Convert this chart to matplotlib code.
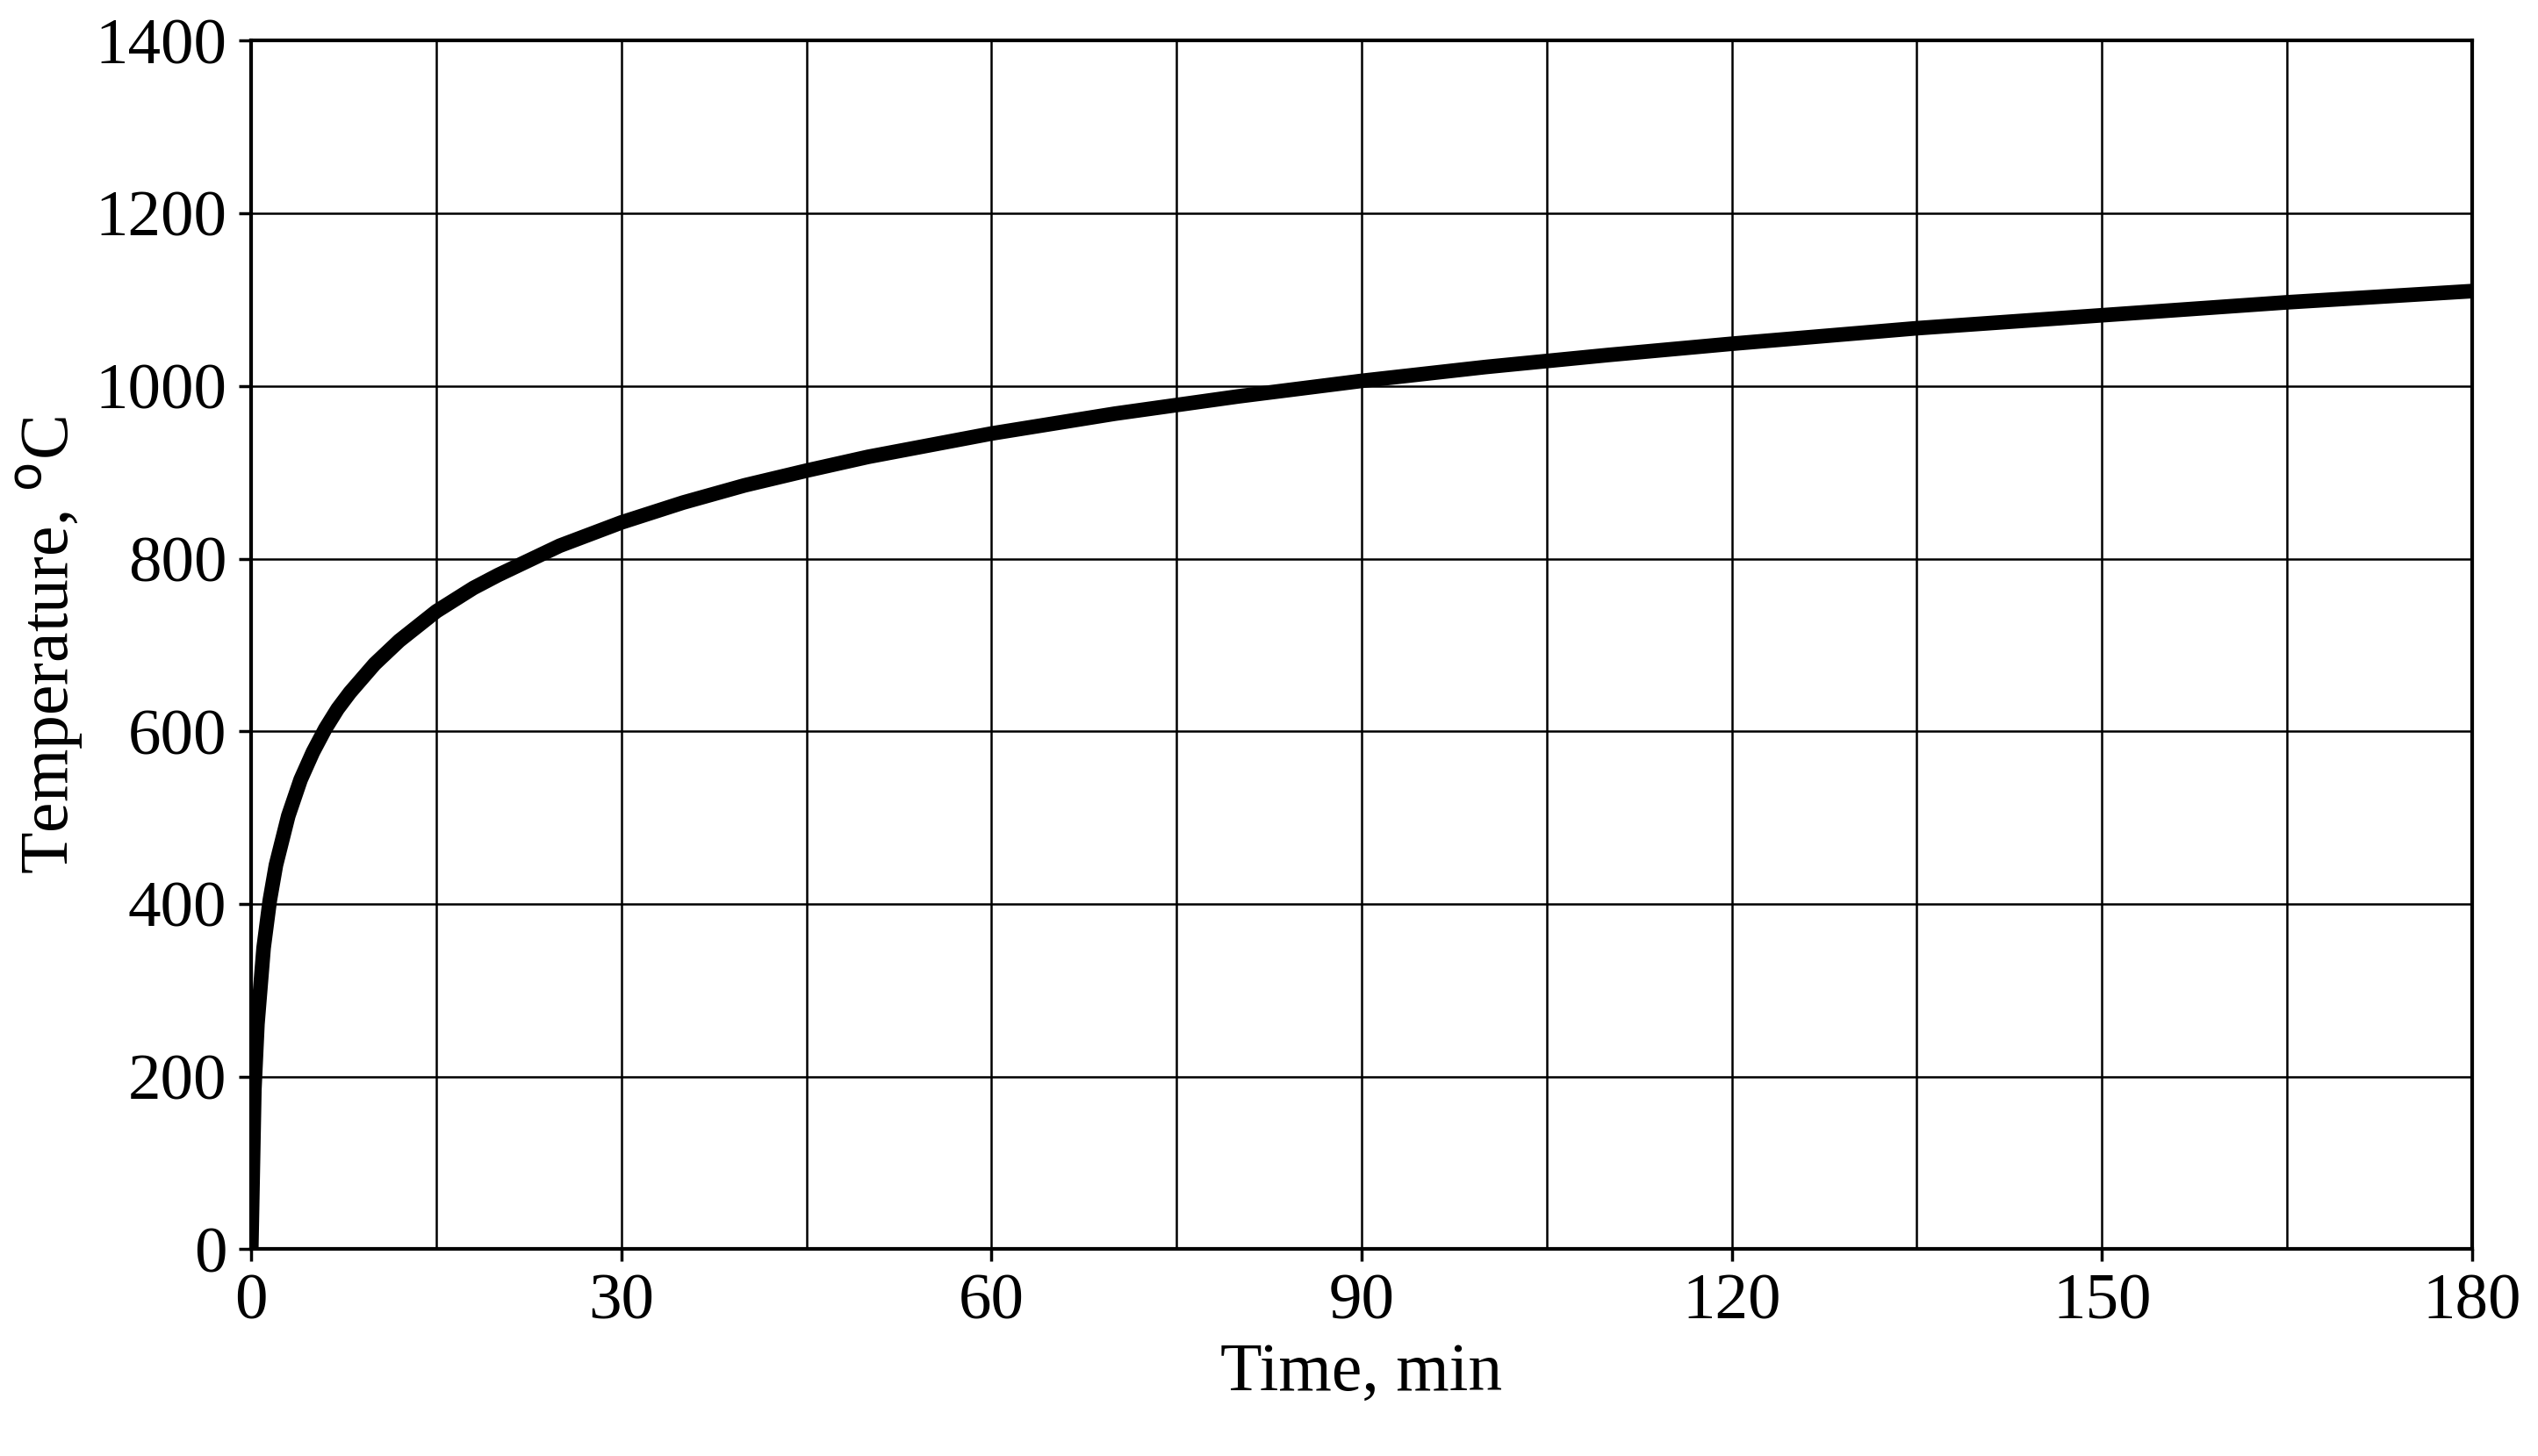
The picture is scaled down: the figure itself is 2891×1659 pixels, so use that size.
import matplotlib
matplotlib.use("Agg")
import matplotlib.pyplot as plt

time_min = [0, 0.25, 0.5, 1, 1.5, 2, 3, 4, 5, 6, 7, 8, 10, 12, 15, 18, 20, 25, 30, 35, 40, 45, 50, 60, 70, 80, 90, 100, 110, 120, 135, 150, 165, 180]
temp_c = [0, 185, 261, 349, 404, 445, 502, 544, 576, 603, 626, 645, 678, 705, 739, 766, 781, 815, 842, 865, 885, 902, 918, 945, 968, 988, 1006, 1022, 1036, 1049, 1067, 1082, 1097, 1110]
xticks = [0, 30, 60, 90, 120, 150, 180]
yticks = [0, 200, 400, 600, 800, 1000, 1200, 1400]

plt.rcParams['font.family'] = ['Liberation Serif', 'DejaVu Serif']
fig = plt.figure(figsize=(28.91, 16.59), dpi=100)
ax = fig.add_axes([0.099, 0.142, 0.875, 0.830])
ax.plot(time_min, temp_c, color='black', lw=12, solid_capstyle='butt', solid_joinstyle='round')
ax.set_xlim(0, 180)
ax.set_ylim(0, 1400)
ax.set_xticks(range(0, 181, 15), minor=True)
ax.set_xticks(xticks)
ax.set_yticks(yticks)
ax.grid(True, which='both', color='black', lw=1.8)
ax.tick_params(labelsize=54, width=2.5, length=10, direction='out', pad=10)
ax.tick_params(which='minor', length=0)
for s in ax.spines.values():
    s.set_linewidth(3)
ax.set_xlabel('Time, min', fontsize=56, labelpad=8)
ax.set_ylabel('Temperature, $^{\\mathrm{o}}$C', fontsize=56, labelpad=8)
fig.savefig('out.png', dpi=100)
